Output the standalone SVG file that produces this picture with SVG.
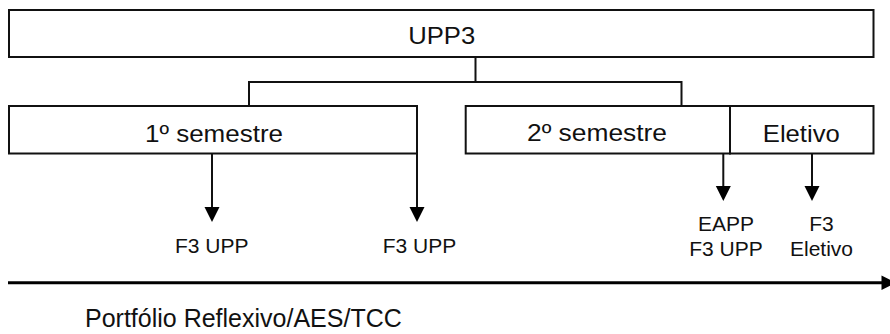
<svg xmlns="http://www.w3.org/2000/svg" width="890" height="334" viewBox="0 0 890 334">
<style>
.box{fill:#fff;stroke:#111;stroke-width:2}
.ln{fill:none;stroke:#111;stroke-width:2}
.big{font-family:"Liberation Sans",Arial,sans-serif;font-size:24px;fill:#111;text-anchor:middle}
.sm{font-family:"Liberation Sans",Arial,sans-serif;font-size:21px;fill:#111;text-anchor:middle}
.ah{fill:#000}
</style>
<rect width="890" height="334" fill="#fff"/>
<g id="connectors">
<path class="ln" d="M475.5 57 V82 M249 106 V82 H681.5 V106"/>
<path class="ln" d="M212 153 V208 M417 153 V208 M723.3 153 V187 M812 153 V187"/>
<polygon class="ah" points="204.5,207 219.5,207 212,222"/>
<polygon class="ah" points="409.5,207 424.5,207 417,222"/>
<polygon class="ah" points="715.8,186 730.8,186 723.3,201"/>
<polygon class="ah" points="804.5,186 819.5,186 812,201"/>
<line x1="8" y1="282.7" x2="884" y2="282.7" stroke="#000" stroke-width="3"/>
<polygon class="ah" points="881.5,275.5 881.5,290 896,282.7"/>
</g>
<g id="upp3">
<rect class="box" x="9" y="10" width="864.5" height="47"/>
<text class="big" x="441.7" y="44.3" textLength="67" lengthAdjust="spacingAndGlyphs">UPP3</text>
</g>
<g id="sem1">
<rect class="box" x="9" y="106" width="408" height="47.5"/>
<text class="big" x="214" y="141.7" textLength="138" lengthAdjust="spacingAndGlyphs">1º semestre</text>
</g>
<g id="sem2">
<rect class="box" x="465.7" y="106" width="264.3" height="47.5"/>
<text class="big" x="597" y="141.2" textLength="140" lengthAdjust="spacingAndGlyphs">2º semestre</text>
</g>
<g id="eletivo">
<rect class="box" x="730" y="106" width="143.5" height="47.5"/>
<text class="big" x="801.3" y="141.7" textLength="77" lengthAdjust="spacingAndGlyphs">Eletivo</text>
</g>
<g id="f3upp1">
<text class="sm" x="211.7" y="253.3">F3 UPP</text>
</g>
<g id="f3upp2">
<text class="sm" x="419.5" y="253.3">F3 UPP</text>
</g>
<g id="eapp">
<text class="sm" x="726" y="230.7">EAPP</text>
<text class="sm" x="726" y="255.7">F3 UPP</text>
</g>
<g id="f3eletivo">
<text class="sm" x="821.5" y="230.7">F3</text>
<text class="sm" x="821.5" y="255.7">Eletivo</text>
</g>
<g id="portfolio">
<text x="85" y="326.7" font-family="'Liberation Sans',Arial,sans-serif" font-size="25" fill="#111">Portfólio Reflexivo/AES/TCC</text>
</g>
</svg>
